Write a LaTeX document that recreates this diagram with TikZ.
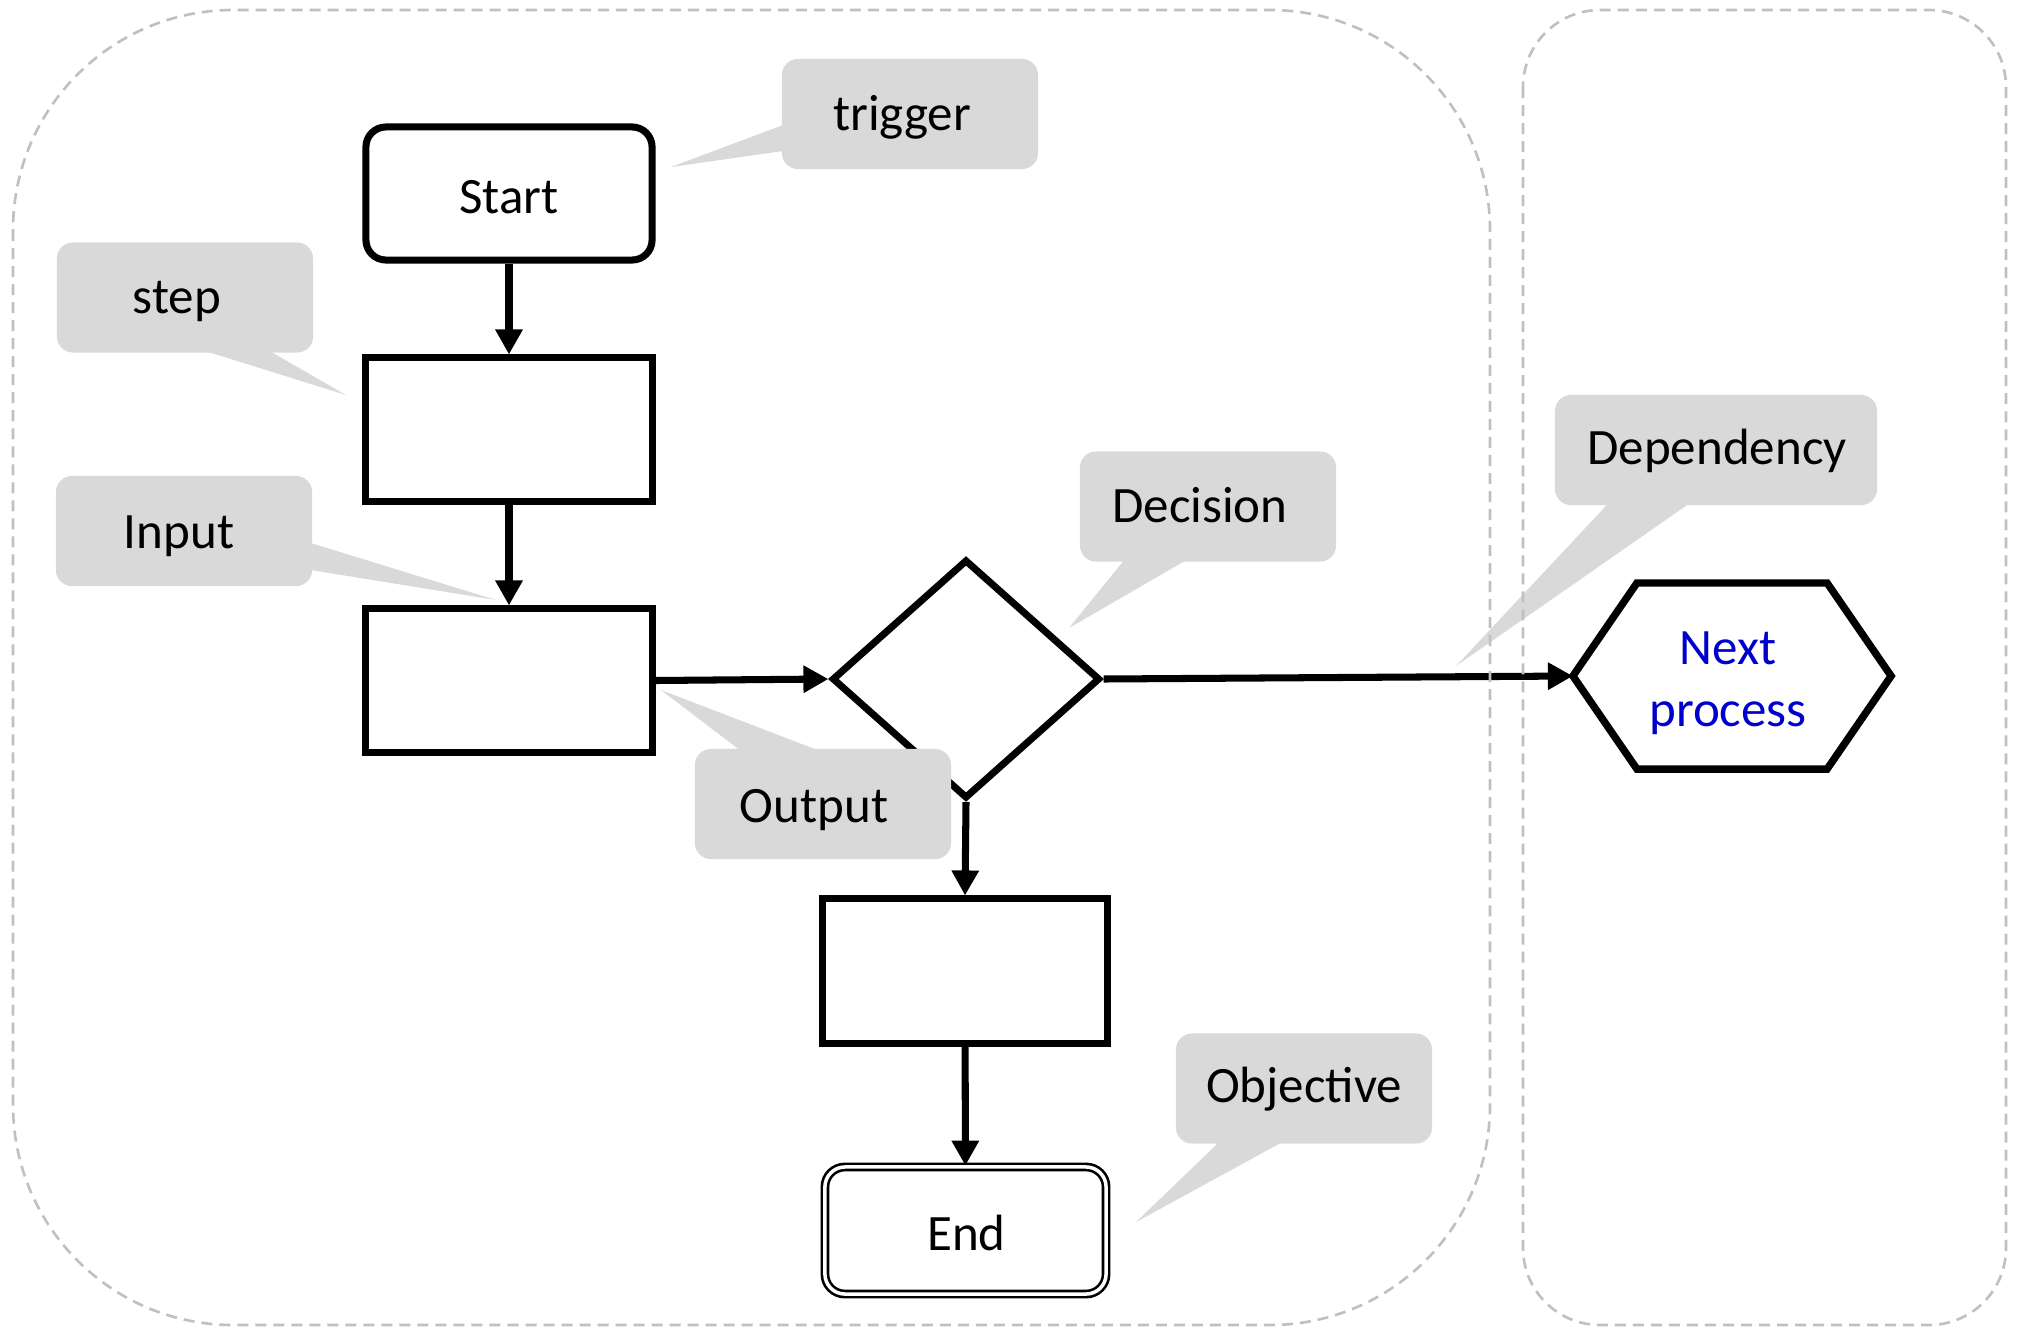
\documentclass[tikz,border=0pt]{standalone}
\usepackage{fontspec}
\setmainfont{Carlito}
\usetikzlibrary{shapes.geometric,arrows.meta,calc}

\definecolor{calloutgray}{HTML}{D9D9D9}
\definecolor{framegray}{HTML}{C0C0C0}
\definecolor{nextblue}{HTML}{0000CC}

\begin{document}
\begin{tikzpicture}[x=0.01cm,y=-0.01cm,
  font=\fontsize{14.5}{17.6}\selectfont,
  flowarrow/.style={line width=2pt,-{Triangle[length=0.25cm,width=0.26cm]}},
  stepbox/.style={draw,line width=2pt,minimum width=2.86cm,minimum height=1.43cm,inner sep=0pt},
  terminal/.style={draw,line width=2pt,rounded corners=0.2cm,minimum width=2.86cm,minimum height=1.33cm,inner sep=0pt},
  endbox/.style={draw,double,line width=0.75pt,double distance=1pt,rounded corners=0.2cm,minimum width=2.81cm,minimum height=1.27cm,inner sep=0pt},
  decision/.style={draw,diamond,line width=2pt,minimum width=2.68cm,minimum height=2.39cm,inner sep=0pt},
  callout/.style={fill=calloutgray,rounded corners=0.16cm,minimum width=2.56cm,minimum height=1.1cm,inner sep=0pt},
  labeltext/.style={inner sep=0pt},
  frame/.style={draw=framegray,line width=0.75pt,dash pattern=on 0.11cm off 0.07cm},
]
\useasboundingbox (0,0) rectangle (2019,1327);

% callout bubbles with their pointers
\node[callout] (trig) at (910,114) {};
\coordinate (trigtip) at (671,167);
\fill[calloutgray] ($(trig.west)+(2,11)$) -- ($(trig.west)+(2,37)$) -- (trigtip) -- cycle;
\node[labeltext] (trigtxt) at ($(trig.center)+(-8,3)$) {trigger};

\node[callout] (stepc) at (185,297.5) {};
\coordinate (steptip) at (346,395);
\fill[calloutgray] ($(stepc.south)+(21,-2)$) -- ($(stepc.south)+(85,-2)$) -- (steptip) -- cycle;
\node[labeltext] (steptxt) at ($(stepc.center)+(-8,4)$) {step};

\node[callout] (inpc) at (184,531) {};
\coordinate (inptip) at (496,600);
\fill[calloutgray] ($(inpc.east)+(-2,12)$) -- ($(inpc.east)+(-2,39)$) -- (inptip) -- cycle;
\node[labeltext] (inptxt) at ($(inpc.center)+(-5,5)$) {Input};

\node[callout] (decc) at (1208,506.5) {};
\coordinate (dectip) at (1069,628);
\fill[calloutgray] ($(decc.south)+(-84,-2)$) -- ($(decc.south)+(-22,-2)$) -- (dectip) -- cycle;
\node[labeltext] (dectxt) at ($(decc.center)+(-8,-1)$) {Decision};

\node[callout,minimum width=3.22cm] (depc) at (1716,450) {};
\coordinate (deptip) at (1456,666);
\fill[calloutgray] ($(depc.south)+(-108,-2)$) -- ($(depc.south)+(-27,-2)$) -- (deptip) -- cycle;
\node[labeltext] (deptxt) at ($(depc.center)+(1,1)$) {Dependency};

\node[callout] (objc) at (1304,1088.5) {};
\coordinate (objtip) at (1136,1222);
\fill[calloutgray] ($(objc.south)+(-85,-2)$) -- ($(objc.south)+(-22,-2)$) -- (objtip) -- cycle;
\node[labeltext] (objtxt) at ($(objc.center)+(0,1)$) {Objective};

% flow nodes
\node[terminal] (start) at (509,193.5) {};
\node[labeltext] (starttxt) at ($(start.center)+(0,4)$) {Start};
\node[stepbox] (s1) at (509,429.5) {};
\node[stepbox] (s2) at (509,680.5) {};
\node[decision] (dec) at (966,679) {};
\node[stepbox,minimum width=2.84cm,minimum height=1.44cm] (s3) at (965,971) {};
\node[endbox] (end) at (965.5,1230.5) {};
\node[labeltext] (endtxt) at ($(end.center)+(1,2)$) {End};

% hexagon for the next process
\node[minimum width=3.18cm,minimum height=1.86cm,inner sep=0pt,outer sep=0pt] (hex) at (1732,676) {};
\draw[line width=2.1pt,line join=miter]
  (hex.west) -- ($(hex.north west)+(64,0)$) -- ($(hex.north east)+(-64,0)$)
  -- (hex.east) -- ($(hex.south east)+(-64,0)$) -- ($(hex.south west)+(64,0)$) -- cycle;
\node[labeltext,align=center,text=nextblue] (hextxt) at ($(hex.center)+(-4,7)$) {Next\\process};

% connectors
\draw[flowarrow] (start) -- (s1);
\draw[flowarrow] (s1) -- (s2);
\draw[flowarrow] (s2.east) -- (dec.west);
\draw[flowarrow] (dec.east) -- (hex.west);
\draw[flowarrow] (dec.south) -- (s3.north);
\draw[flowarrow] (s3) -- (end);

% output callout sits over the decision diamond
\node[callout] (outc) at (823,804) {};
\coordinate (outtip) at (661,690);
\fill[calloutgray] ($(outc.north)+(-83,2)$) -- ($(outc.north)+(-5,2)$) -- (outtip) -- cycle;
\node[labeltext] (outtxt) at ($(outc.center)+(-9,6)$) {Output};

% dashed swimlane frames
\draw[frame,rounded corners=2.2cm] (13,10) rectangle (1490,1325);
\draw[frame,rounded corners=0.77cm] (1523,10) rectangle (2006,1325);
\end{tikzpicture}
\end{document}
